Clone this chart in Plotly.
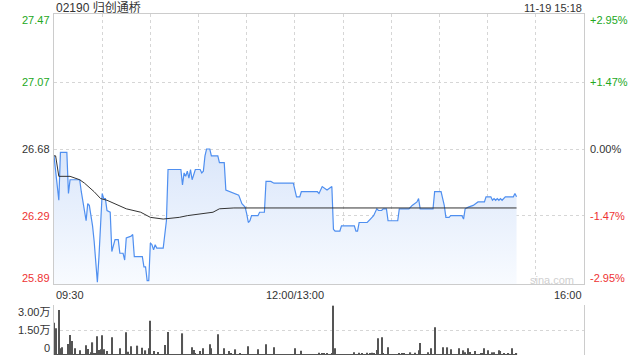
import plotly.graph_objects as go

# ---------------- data ----------------
price_times = ["09:30","09:33","09:34","09:38","09:39","09:40","09:46","09:47","09:50","09:51",
               "09:52","09:54","09:55","09:57","09:58","10:00","10:01","10:02","10:03","10:05",
               "10:06","10:08","10:10","10:11","10:13","10:14","10:15","10:18","10:19","10:20",
               "10:25","10:26","10:27","10:28","10:29","10:30","10:31","10:32","10:33","10:34",
               "10:38","10:40","10:41","10:49","10:50","10:51","10:52","10:53","10:54","10:55",
               "10:56","10:58","11:01","11:02","11:03","11:04","11:05","11:07","11:08","11:12",
               "11:13","11:16","11:17","11:20","11:25","11:27","11:29","11:30","11:31","11:32",
               "11:33","11:37","11:38","11:41","11:42","11:45","11:47","11:59","13:01","13:03",
               "13:04","13:14","13:15","13:17","13:20","13:23","13:24","13:25","13:28","13:29",
               "13:37","13:38","13:39","13:40","13:45","13:47","13:49","13:51","13:52","13:54",
               "13:55","13:57","13:58","14:04","14:05","14:11","14:13","14:16","14:17","14:18",
               "14:26","14:27","14:31","14:33","14:34","14:36","14:37","14:44","14:45","14:46",
               "14:48","14:51","14:54","14:58","14:59","15:02","15:03","15:04","15:05","15:06",
               "15:07","15:08","15:09","15:11","15:16","15:17","15:18"]
prices = [26.64,26.38,26.66,26.66,26.42,26.50,26.50,26.43,26.26,26.36,
          26.35,26.23,26.14,25.90,26.05,26.42,26.39,26.39,26.32,26.31,
          26.08,26.15,26.15,26.07,26.07,26.03,26.16,26.17,26.18,26.05,
          26.05,25.99,25.99,25.91,25.91,26.13,26.12,26.09,26.12,26.10,
          26.10,26.26,26.56,26.56,26.47,26.54,26.52,26.55,26.51,26.56,
          26.50,26.56,26.56,26.54,26.55,26.64,26.68,26.68,26.64,26.64,
          26.60,26.60,26.44,26.43,26.41,26.36,26.34,26.30,26.25,26.26,
          26.29,26.29,26.31,26.31,26.49,26.49,26.48,26.48,26.40,26.40,
          26.43,26.43,26.42,26.46,26.44,26.46,26.21,26.20,26.20,26.23,
          26.23,26.20,26.20,26.25,26.25,26.27,26.29,26.33,26.32,26.32,
          26.33,26.33,26.26,26.26,26.33,26.33,26.35,26.37,26.39,26.33,
          26.33,26.43,26.43,26.35,26.28,26.28,26.29,26.29,26.27,26.33,
          26.34,26.35,26.37,26.37,26.40,26.40,26.38,26.39,26.38,26.39,
          26.38,26.39,26.38,26.40,26.40,26.42,26.40]

avg_times = ["09:30","09:31","09:33","09:40","09:46","09:49","09:55","09:59","10:03","10:08",
             "10:15","10:24","10:30","10:38","10:48","10:53","11:09","11:13","11:22","15:18"]
avg_prices = [26.64,26.64,26.52,26.52,26.50,26.48,26.43,26.39,26.38,26.36,
              26.33,26.31,26.28,26.27,26.28,26.29,26.31,26.33,26.335,26.335]

# volume in 万 shares, one value per minute
vol_morning = [1.94,1.60,0.05,2.70,0.40,0.46,0.04,0.02,0.04,0.66,
               1.20,0.84,0.03,0.40,0.05,0.02,0.28,0.02,0.02,0.02,
               0.58,0.36,0.02,0.16,0.76,0.10,0.10,1.12,0.30,0.34,
               1.18,0.34,0.02,0.24,0.03,0.02,1.06,0.03,0.05,0.05,
               0.05,0.40,0.03,0.02,0.05,1.36,0.20,0.02,0.52,0.05,
               0.03,0.02,0.56,0.03,0.05,0.44,0.02,0.28,0.02,0.40,
               2.06,0.02,0.24,0.03,0.05,0.18,0.02,0.02,0.03,0.60,
               0.03,1.38,0.02,0.02,0.02,0.02,0.02,0.02,0.02,0.02,
               1.30,0.02,0.02,0.03,0.05,0.05,0.46,0.30,0.08,0.05,
               0.03,0.24,0.02,0.40,0.05,0.03,0.05,0.64,0.40,0.05,
               0.02,0.03,1.24,0.05,0.02,0.02,0.40,0.03,0.05,0.24,
               0.08,0.05,0.03,0.34,0.02,0.05,0.08,0.03,0.05,0.05,
               0.03,0.52,0.04,0.05,0.03,0.02,0.02,0.34,0.04,0.02,
               0.02,0.02,0.64,0.04,0.02,0.02,0.02,0.46,0.03,0.02,
               0.03,0.02,0.03,0.02,0.03,0.02,0.03,0.02,0.03,0.02]
vol_afternoon = [0.40,0.03,0.04,0.03,0.26,0.04,0.03,0.02,0.03,0.02,
                 0.03,0.02,0.03,0.02,0.03,0.14,0.03,0.10,0.10,0.03,
                 0.08,0.04,0.03,0.10,2.96,0.40,0.03,0.02,0.03,0.02,
                 0.03,0.02,0.03,0.02,0.03,0.02,0.03,0.16,0.04,0.03,
                 0.14,0.03,0.10,0.03,0.02,0.14,0.03,0.10,0.14,0.10,
                 0.03,0.30,1.00,0.03,1.06,0.10,0.03,0.02,0.46,0.04,
                 0.03,0.02,0.03,0.02,0.03,0.10,0.03,0.10,0.10,0.03,
                 0.02,0.03,0.16,0.03,0.02,0.14,0.03,0.28,0.72,0.03,
                 0.04,0.02,0.04,0.16,0.03,0.40,0.04,1.66,0.03,0.02,
                 0.04,0.02,0.46,0.04,0.03,0.46,0.04,0.34,0.03,0.04,
                 0.02,0.04,0.40,0.03,0.04,0.28,0.16,0.03,0.40,0.18,
                 0.03,0.04,0.24,0.03,0.04,0.05,0.10,0.08,0.40,0.04,
                 0.28,0.04,0.03,0.16,0.16,0.04,0.03,0.28,0.24,0.04,
                 0.10,0.04,0.03,0.10,0.04,0.40,0.04,0.03,0.10]

price_ticks = [27.47, 27.07, 26.68, 26.29, 25.89]
price_tick_labels = ["27.47", "27.07", "26.68", "26.29", "25.89"]
pct_tick_labels = ["+2.95%", "+1.47%", "0.00%", "-1.47%", "-2.95%"]
vol_ticks = [3.0, 1.5, 0.0]
vol_tick_labels = ["3.00万", "1.50万", "0"]
time_ticks = ["09:30", "12:00/13:00", "16:00"]
title_text = "02190 归创通桥"
date_text = "11-19 15:18"

# ---------------- helpers ----------------
def idx(t):
    h, m = map(int, t.split(":"))
    tot = h * 60 + m
    return tot - 570 if tot <= 720 else tot - 780 + 150

vol_x = list(range(0, len(vol_morning))) + [150 + i for i in range(len(vol_afternoon))]
vol_y = vol_morning + vol_afternoon

W, H = 640, 360
L, R, T, B = 54, 56, 14, 5
def py(pix):
    return (H - B - pix) / (H - T - B)

GREEN = "#22a822"
RED = "#ee3333"
DARK = "#333333"
GRID = "#d6d6d6"
BORDER = "#cccccc"
FONT = "Liberation Sans, Arial, Noto Sans CJK SC, sans-serif"

fig = go.Figure()

fig.add_trace(go.Scatter(
    x=[idx(t) for t in price_times], y=prices, mode="lines",
    line=dict(color="#4f8ff0", width=1.2),
    fill="tozeroy",
    fillgradient=dict(type="vertical", start=25.89, stop=26.68,
                      colorscale=[[0, "#f8fbff"], [1, "#dae6fa"]]),
    hoverinfo="skip", xaxis="x", yaxis="y"))

fig.add_trace(go.Scatter(
    x=[idx(t) for t in avg_times], y=avg_prices, mode="lines",
    line=dict(color="#333333", width=1),
    hoverinfo="skip", xaxis="x", yaxis="y"))

fig.add_trace(go.Bar(
    x=vol_x, y=vol_y, width=0.7, marker=dict(color="#555555", line=dict(width=0)),
    hoverinfo="skip", xaxis="x2", yaxis="y2"))

main_bottom = py(284)
vol_top = py(305)

fig.update_layout(
    width=W, height=H, margin=dict(l=L, r=R, t=T, b=B),
    paper_bgcolor="white", plot_bgcolor="white", showlegend=False,
    font=dict(family=FONT, size=11, color=DARK),
    xaxis=dict(domain=[0, 1], range=[0, 330], anchor="y",
               tickvals=list(range(0, 331, 30)), showticklabels=False, ticks="",
               showgrid=True, gridcolor=GRID, griddash="dot", gridwidth=1,
               zeroline=False, showline=True, linecolor=BORDER, linewidth=1, mirror=True),
    yaxis=dict(domain=[main_bottom, 1], range=[25.89, 27.47],
               tickvals=price_ticks, showticklabels=False, ticks="",
               showgrid=True, gridcolor=GRID, griddash="dot", gridwidth=1,
               zeroline=False, showline=True, linecolor=BORDER, linewidth=1, mirror=True),
    xaxis2=dict(domain=[0, 1], range=[0, 330], anchor="y2", matches="x",
                showticklabels=False, ticks="", showgrid=False, zeroline=False,
                showline=False),
    yaxis2=dict(domain=[0, vol_top], range=[0, 3.0], anchor="x2",
                tickvals=vol_ticks, showticklabels=False, ticks="",
                showgrid=True, gridcolor=GRID, griddash="dot", gridwidth=1,
                zeroline=False, showline=True, linecolor=BORDER, linewidth=1, mirror=True),
)

ann = []
colors = [GREEN, GREEN, DARK, RED, RED]
shifts = [-6, 0, 0, 0, 6]
for v, lab, pl, c, s in zip(price_ticks, price_tick_labels, pct_tick_labels, colors, shifts):
    ann.append(dict(xref="paper", yref="y", x=0, y=v, text=lab, showarrow=False,
                    xanchor="right", yanchor="middle", xshift=-2, yshift=s,
                    font=dict(color=c, size=11)))
    ann.append(dict(xref="paper", yref="y", x=1, y=v, text=pl, showarrow=False,
                    xanchor="left", yanchor="middle", xshift=4, yshift=s,
                    font=dict(color=c, size=11)))

for v, lab, s in zip(vol_ticks, vol_tick_labels, [-7, 0, 7]):
    ann.append(dict(xref="paper", yref="y2", x=0, y=v, text=lab, showarrow=False,
                    xanchor="right", yanchor="middle", xshift=-2, yshift=s,
                    font=dict(color=DARK, size=11)))

ty = py(295)
ann.append(dict(xref="paper", yref="paper", x=0, y=ty, text=time_ticks[0], showarrow=False,
                xanchor="left", yanchor="middle", font=dict(color=DARK, size=11)))
ann.append(dict(xref="x", yref="paper", x=150, y=ty, text=time_ticks[1], showarrow=False,
                xanchor="center", yanchor="middle", font=dict(color=DARK, size=11)))
ann.append(dict(xref="paper", yref="paper", x=1, y=ty, text=time_ticks[2], showarrow=False,
                xanchor="right", yanchor="middle", font=dict(color=DARK, size=11)))

ann.append(dict(xref="paper", yref="paper", x=0, y=py(7.5), text=title_text, showarrow=False,
                xanchor="left", yanchor="middle", font=dict(color=DARK, size=12)))
ann.append(dict(xref="paper", yref="paper", x=1, y=py(7.5), text=date_text, showarrow=False,
                xanchor="right", yanchor="middle", font=dict(color=DARK, size=11)))
ann.append(dict(xref="paper", yref="paper", x=(552 - L) / (W - L - R), y=py(279.5),
                text="sina.com", showarrow=False, xanchor="center", yanchor="middle",
                font=dict(color="#cfcfcf", size=11)))

fig.update_layout(annotations=ann)
fig.write_html("out.html")
